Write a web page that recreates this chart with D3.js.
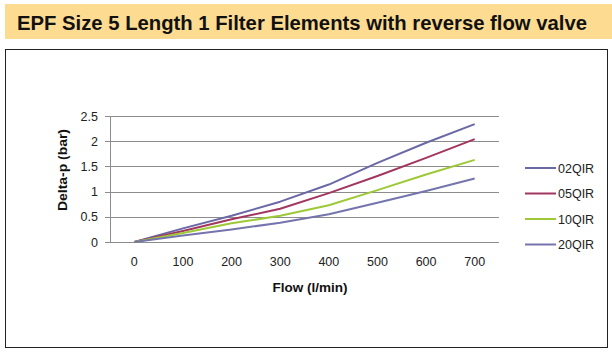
<!DOCTYPE html>
<html>
<head>
<meta charset="utf-8">
<script src="https://cdn.jsdelivr.net/npm/d3@7"></script>
<style>
  body { margin: 0; background: #fff; }
  svg { display: block; font-family: "Liberation Sans", Arial, sans-serif; }
</style>
</head>
<body>
<svg width="612" height="352"></svg>
<script>
const svg = d3.select("svg");

// chart data
const flows = [0, 100, 200, 300, 400, 500, 600, 700];
const seriesNames = ["02QIR", "05QIR", "10QIR", "20QIR"];
const seriesColors = ["#6a68a6", "#a1365f", "#9cc935", "#7574ac"];
const v02 = [0, 0.27, 0.52, 0.80, 1.14, 1.57, 1.97, 2.34];
const v05 = [0, 0.22, 0.45, 0.66, 0.97, 1.31, 1.67, 2.04];
const v10 = [0, 0.18, 0.37, 0.52, 0.73, 1.03, 1.34, 1.63];
const v20 = [0, 0.13, 0.25, 0.38, 0.55, 0.78, 1.01, 1.26];
const yTicks = [0, 0.5, 1, 1.5, 2, 2.5];
const seriesValues = [v02, v05, v10, v20];

// title band
svg.append("rect")
  .attr("x", 5).attr("y", 4)
  .attr("width", 607).attr("height", 35)
  .attr("fill", "#fddc91");

svg.append("text")
  .attr("x", 17).attr("y", 30)
  .attr("font-size", 20.5)
  .attr("font-weight", "bold")
  .attr("fill", "#111")
  .attr("textLength", 570)
  .attr("lengthAdjust", "spacingAndGlyphs")
  .text("EPF Size 5 Length 1 Filter Elements with reverse flow valve");

// chart frame
svg.append("rect")
  .attr("x", 5.5).attr("y", 49.5)
  .attr("width", 602).attr("height", 298)
  .attr("fill", "none")
  .attr("stroke", "#222")
  .attr("stroke-width", 1);

const plot = {left: 110, right: 499, top: 116, bottom: 242};

const x = d3.scaleBand()
  .domain(flows)
  .range([plot.left, plot.right]);

const y = d3.scaleLinear()
  .domain([0, 2.5])
  .range([plot.bottom, plot.top]);

// grid lines
svg.append("g")
  .selectAll("line")
  .data(yTicks)
  .join("line")
    .attr("x1", plot.left - 5)
    .attr("x2", plot.right)
    .attr("y1", d => Math.round(y(d)) + 0.5)
    .attr("y2", d => Math.round(y(d)) + 0.5)
    .attr("stroke", "#8c8c8c")
    .attr("stroke-width", 1);

// y axis line
svg.append("line")
  .attr("x1", plot.left + 0.5).attr("x2", plot.left + 0.5)
  .attr("y1", plot.top).attr("y2", plot.bottom)
  .attr("stroke", "#8c8c8c");

// y tick labels
svg.append("g")
  .selectAll("text")
  .data(yTicks)
  .join("text")
    .attr("x", plot.left - 12)
    .attr("y", d => y(d) + 4.5)
    .attr("text-anchor", "end")
    .attr("font-size", 12.5)
    .attr("fill", "#222")
    .text(d => d);

// x tick labels
svg.append("g")
  .selectAll("text")
  .data(flows)
  .join("text")
    .attr("x", d => x(d) + x.bandwidth() / 2)
    .attr("y", 266)
    .attr("text-anchor", "middle")
    .attr("font-size", 12.5)
    .attr("fill", "#222")
    .text(d => d);

// axis titles
svg.append("text")
  .attr("x", 310).attr("y", 292)
  .attr("text-anchor", "middle")
  .attr("font-size", 13.5)
  .attr("font-weight", "bold")
  .attr("fill", "#111")
  .text("Flow (l/min)");

svg.append("text")
  .attr("transform", "translate(67,170) rotate(-90)")
  .attr("text-anchor", "middle")
  .attr("font-size", 13.5)
  .attr("font-weight", "bold")
  .attr("fill", "#111")
  .attr("textLength", 82)
  .attr("lengthAdjust", "spacingAndGlyphs")
  .text("Delta-p (bar)");

// series lines
const line = d3.line()
  .x((d, i) => x(flows[i]) + x.bandwidth() / 2)
  .y(d => y(d));

svg.append("g")
  .selectAll("path")
  .data(seriesValues)
  .join("path")
    .attr("d", d => line(d))
    .attr("fill", "none")
    .attr("stroke", (d, i) => seriesColors[i])
    .attr("stroke-width", 2)
    .attr("stroke-linejoin", "round");

// legend
const legend = svg.append("g")
  .selectAll("g")
  .data(seriesNames)
  .join("g")
    .attr("transform", (d, i) => "translate(525," + (168 + i * 25.5) + ")");

legend.append("line")
  .attr("x1", 0).attr("x2", 31)
  .attr("stroke", (d, i) => seriesColors[i])
  .attr("stroke-width", 2);

legend.append("text")
  .attr("x", 33).attr("y", 4.5)
  .attr("font-size", 12.5)
  .attr("fill", "#222")
  .text(d => d);
</script>
</body>
</html>
